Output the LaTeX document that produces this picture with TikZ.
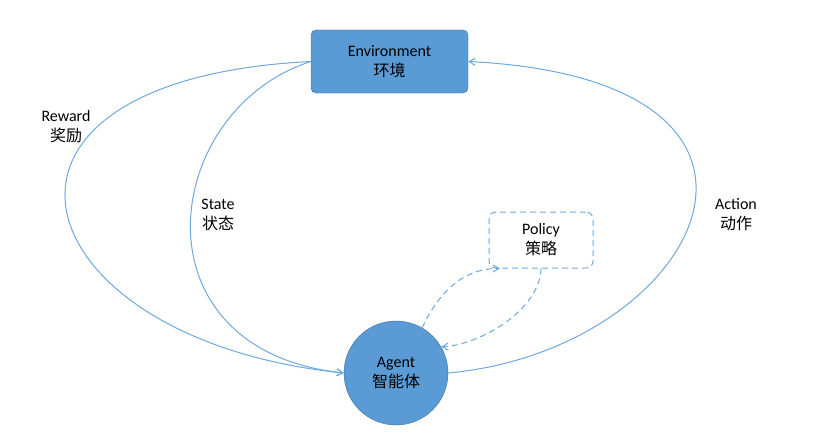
\documentclass[tikz,border=0pt]{standalone}
\usepackage{fontspec}
\setmainfont{Carlito}
\newfontfamily\cjk{Noto Sans CJK SC}
\usetikzlibrary{arrows.meta}
\definecolor{boxblue}{HTML}{5B9BD5}
\definecolor{edgeblue}{HTML}{41719C}
\definecolor{lineblue}{HTML}{6FA8DC}
\tikzset{
	lblfont/.style={font=\fontsize{16}{20}\selectfont},
	envbox/.style={draw=edgeblue, fill=boxblue, rounded corners=5pt, minimum width=157pt, minimum height=63pt, align=center, lblfont},
	agentnode/.style={circle, draw=edgeblue, fill=boxblue, minimum size=104pt, align=center, lblfont},
	policybox/.style={draw=lineblue, dashed, dash pattern=on 6pt off 4pt, rounded corners=7pt, line width=1pt, minimum width=104pt, minimum height=56pt, align=center, lblfont},
	flow/.style={draw=lineblue, line width=1pt, -{Straight Barb[length=6pt,width=7pt]}},
	lbl/.style={align=center, lblfont}
}
\begin{document}
\begin{tikzpicture}[x=1pt,y=-1pt]
	\useasboundingbox (0,0) rectangle (821,436);
	% nodes
	\node[envbox] (env) at (389.5,61.5) {Environment\\{\cjk 环境}};
	\node[agentnode] (agent) at (396,373) {Agent\\{\cjk 智能体}};
	\node[policybox] (policy) at (541,240) {Policy\\{\cjk 策略}};
	% labels
	\node[lbl] (reward) at (66,127) {Reward\\{\cjk 奖励}};
	\node[lbl] (state) at (218,215) {State\\{\cjk 状态}};
	\node[lbl] (action) at (736,215) {Action\\{\cjk 动作}};
	% loops
	\draw[flow] (env.west) .. controls (-60,80) and (20,340) .. (agent.west);
	\draw[flow] (env.west) .. controls (160,110) and (130,350) .. (agent.west);
	\draw[flow] (agent.east) .. controls (700,350) and (840,80) .. (env.east);
	% policy
	\draw[flow, dashed, dash pattern=on 6pt off 4pt] (agent.60) .. controls (440,290) and (465,268) .. (policy.south west -| 500,0);
	\draw[flow, dashed, dash pattern=on 6pt off 4pt] (policy.south) .. controls (540,310) and (480,345) .. (agent.30);
\end{tikzpicture}
\end{document}
